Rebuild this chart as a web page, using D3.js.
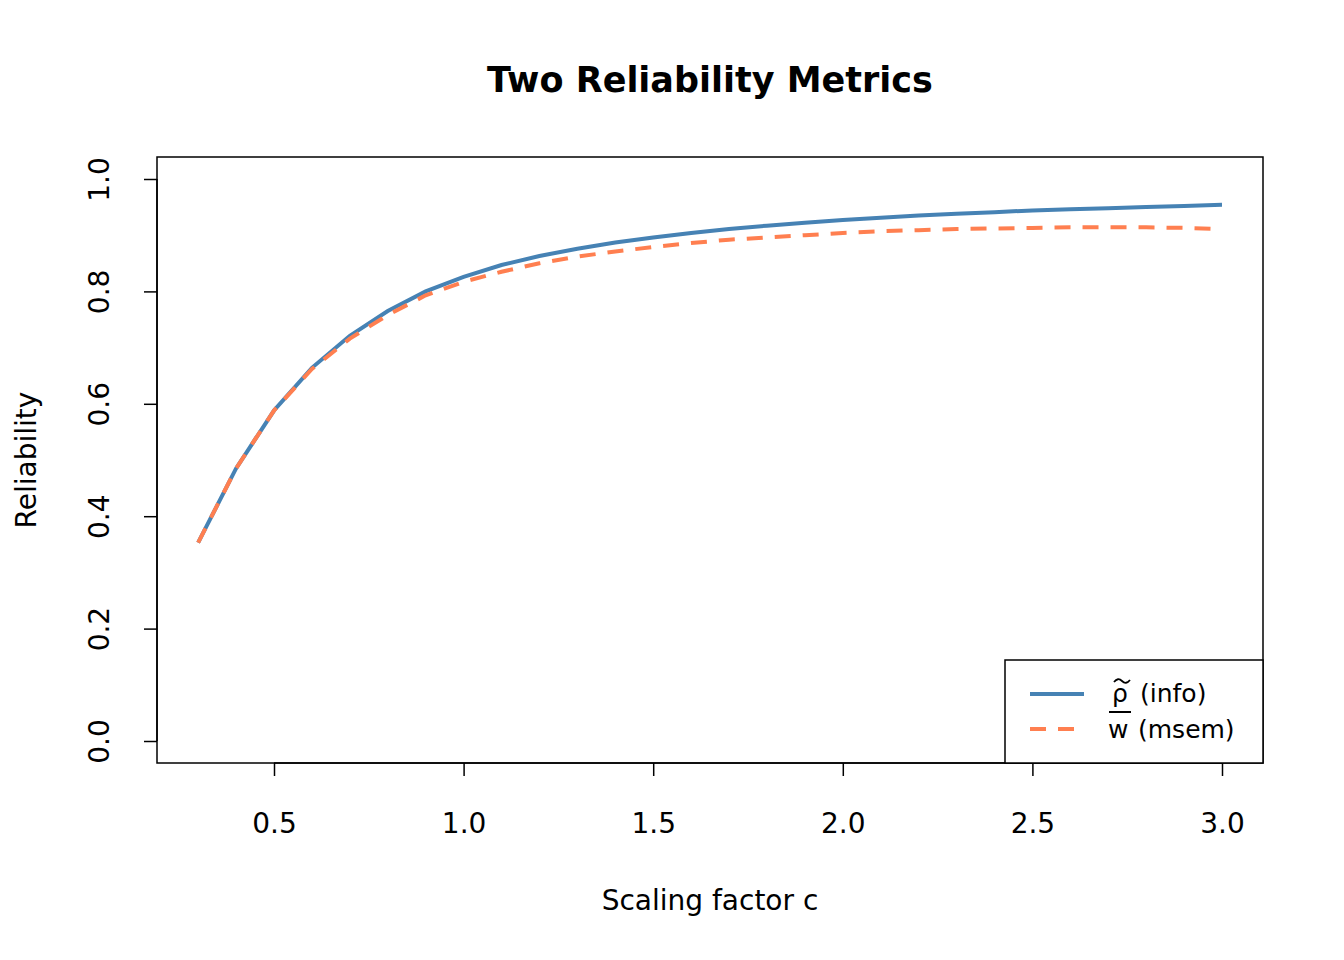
<!DOCTYPE html><html><head><meta charset="utf-8">
<script src="https://cdn.jsdelivr.net/npm/d3@7"></script>
<style>body{margin:0;background:#fff}text{font-family:"DejaVu Sans",sans-serif}</style></head><body>
<svg id="c" width="1344" height="960"></svg>
<script>
const cvals=[0.3,0.4,0.5,0.6,0.7,0.8,0.9,1.0,1.1,1.2,1.3,1.4,1.5,1.6,1.7,1.8,1.9,2.0,2.1,2.2,2.3,2.4,2.5,2.6,2.7,2.8,2.9,3.0];
const rhoInfo=[0.353,0.485,0.588,0.664,0.721,0.765,0.800,0.826,0.847,0.863,0.876,0.887,0.896,0.904,0.911,0.917,0.922,0.927,0.931,0.935,0.938,0.941,0.944,0.946,0.948,0.950,0.952,0.954];
const wMsem=[0.353,0.485,0.588,0.662,0.716,0.758,0.793,0.817,0.835,0.850,0.862,0.871,0.879,0.886,0.892,0.896,0.900,0.904,0.907,0.909,0.911,0.912,0.913,0.914,0.914,0.914,0.913,0.911];
const xTicks=[0.5,1.0,1.5,2.0,2.5,3.0];
const yTicks=[0.0,0.2,0.4,0.6,0.8,1.0];
const svg=d3.select("#c");
const x=d3.scaleLinear().domain([0.5,3.0]).range([274,1222]);
const y=d3.scaleLinear().domain([0,1]).range([741,179]);
svg.append("rect").attr("x",157).attr("y",157).attr("width",1106).attr("height",606).attr("fill","none").attr("stroke","#000").attr("stroke-width",1.5);
const xa=svg.append("g").attr("transform","translate(0,763)").call(d3.axisBottom(x).tickValues(xTicks).tickFormat(d3.format(".1f")).tickSize(13).tickSizeOuter(0));
xa.select(".domain").attr("d","M274,0H1222").attr("stroke-width",1.5);
xa.selectAll("line").attr("stroke-width",1.5);
xa.selectAll(".tick text").attr("font-size",28).attr("y",0).attr("dy",0).attr("transform","translate(0,70)").attr("fill","#000");
const ya=svg.append("g").attr("transform","translate(157,0)").call(d3.axisLeft(y).tickValues(yTicks).tickFormat(d3.format(".1f")).tickSize(13).tickSizeOuter(0));
ya.select(".domain").attr("d","M0,741V179").attr("stroke-width",1.5);
ya.selectAll("line").attr("stroke-width",1.5);
ya.selectAll(".tick text").attr("font-size",28).attr("fill","#000").attr("text-anchor","middle").attr("x",0).attr("dy",0)
  .attr("transform","translate(-48,0) rotate(-90)");
svg.append("text").attr("x",710).attr("y",92).attr("text-anchor","middle").attr("font-size",35).attr("font-weight","bold").text("Two Reliability Metrics");
svg.append("text").attr("x",710).attr("y",910).attr("text-anchor","middle").attr("font-size",28).text("Scaling factor c");
svg.append("text").attr("transform","translate(36,460) rotate(-90)").attr("text-anchor","middle").attr("font-size",28).text("Reliability");
const line=d3.line().x((d,i)=>x(cvals[i])).y(d=>y(d));
svg.append("path").attr("d",line(rhoInfo)).attr("fill","none").attr("stroke","#4682B4").attr("stroke-width",4);
svg.append("path").attr("d",line(wMsem)).attr("fill","none").attr("stroke","#FF7F50").attr("stroke-width",4).attr("stroke-dasharray","16,12");
const lg=svg.append("g");
lg.append("rect").attr("x",1005).attr("y",660).attr("width",258).attr("height",103).attr("fill","#fff").attr("stroke","#000").attr("stroke-width",1.5);
lg.append("line").attr("x1",1030).attr("x2",1084).attr("y1",694).attr("y2",694).attr("stroke","#4682B4").attr("stroke-width",4);
lg.append("line").attr("x1",1030).attr("x2",1084).attr("y1",729).attr("y2",729).attr("stroke","#FF7F50").attr("stroke-width",4).attr("stroke-dasharray","16,12");
lg.append("text").attr("x",1112).attr("y",702).attr("font-size",25).text("ρ");
lg.append("text").attr("x",1140).attr("y",702).attr("font-size",25).text("(info)");
lg.append("path").attr("d","M1114,682 q4,-5 8,-1 t8,-1").attr("fill","none").attr("stroke","#000").attr("stroke-width",1.8);
lg.append("text").attr("x",1108).attr("y",738).attr("font-size",25).text("w");
lg.append("text").attr("x",1138).attr("y",738).attr("font-size",25).text("(msem)");
lg.append("line").attr("x1",1109).attr("x2",1131).attr("y1",712).attr("y2",712).attr("stroke","#000").attr("stroke-width",2);
</script></body></html>
